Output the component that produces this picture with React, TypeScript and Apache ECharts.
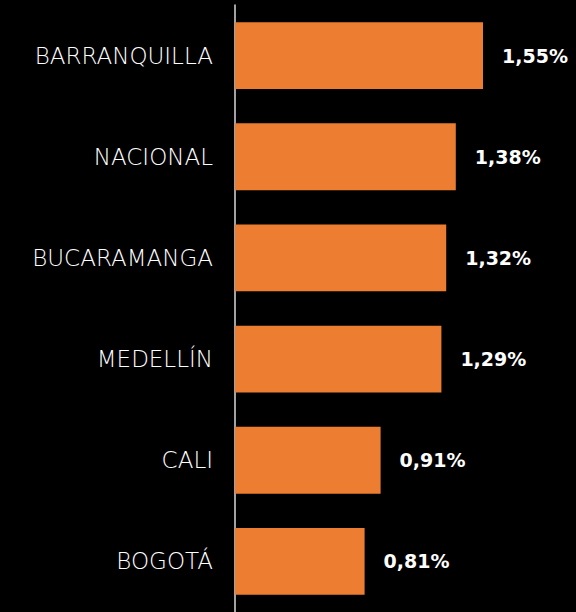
import React, { useEffect, useRef } from "react";
import * as echarts from "echarts";

const categories = ["BARRANQUILLA", "NACIONAL", "BUCARAMANGA", "MEDELLÍN", "CALI", "BOGOTÁ"];
const values = [1.55, 1.38, 1.32, 1.29, 0.91, 0.81];

export default function App() {
  const ref = useRef<HTMLDivElement>(null);
  useEffect(() => {
    document.body.style.margin = "0";
    document.body.style.background = "#000";
    const chart = echarts.init(ref.current!, null, { renderer: "svg" });
    chart.setOption({
      animation: false,
      backgroundColor: "#000000",
      grid: { left: 235, right: 21, top: 5, height: 609, containLabel: false },
      xAxis: { type: "value", min: 0, max: 2, show: false },
      yAxis: {
        type: "category",
        inverse: true,
        data: categories,
        axisLine: { show: true, lineStyle: { color: "#d9d9d9", width: 1.5 } },
        axisTick: { show: false },
        axisLabel: {
          color: "#ffffff",
          fontFamily: "DejaVu Sans",
          fontWeight: 200,
          fontSize: 23,
          margin: 22,
        },
      },
      series: [
        {
          type: "bar",
          data: values,
          barCategoryGap: "34%",
          itemStyle: { color: "#ED7D31" },
          label: {
            show: true,
            position: "right",
            distance: 19,
            color: "#ffffff",
            fontFamily: "DejaVu Sans",
            fontWeight: "bold",
            fontSize: 19,
            formatter: (p: any) => p.value.toFixed(2).replace(".", ",") + "%",
          },
        },
      ],
    });
    return () => chart.dispose();
  }, []);
  return <div ref={ref} style={{ width: 576, height: 612 }} />;
}
